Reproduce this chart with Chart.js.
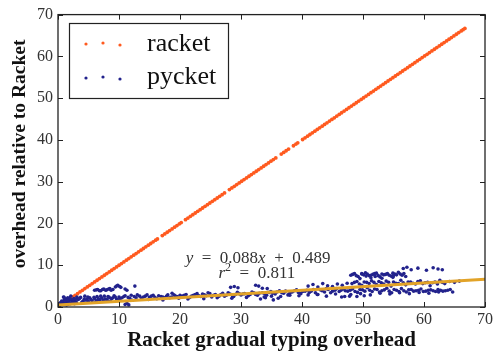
<!DOCTYPE html>
<html>
<head>
<meta charset="utf-8">
<script src="https://cdn.jsdelivr.net/npm/chart.js@4.4.1/dist/chart.umd.min.js"></script>
<style>
  body { margin: 0; background: #fff; }
  canvas { display: block; }
</style>
</head>
<body>
<canvas id="grafico" width="498" height="356"></canvas>
<script>
// racket vs itself: every point sits on the diagonal
const racketOverhead = [
  0.9,1.2,1.5,1.8,2.1,2.4,2.8,3.2,3.6,4.0,4.4,4.8,5.2,5.6,6.0,6.4,6.8,7.2,7.6,8.0,8.4,8.8,9.2,9.6,10.0,
  10.4,10.8,11.2,11.6,12.0,12.4,12.8,13.2,13.6,14.0,14.4,14.8,15.2,15.6,16.0,16.3,
  17.1,17.5,17.9,18.3,18.7,19.1,19.5,19.9,20.2,
  20.9,21.3,21.7,22.1,22.5,22.9,23.3,23.7,24.1,24.5,24.9,25.3,25.7,26.1,26.5,26.9,27.3,
  28.1,28.5,28.9,29.3,29.7,30.1,30.5,30.9,31.3,31.7,32.1,32.5,32.9,33.3,33.7,34.1,34.5,34.9,35.3,35.7,
  36.6,37.0,37.4,37.8,
  38.6,39.0,39.3,
  40.1,40.5,40.9,41.3,41.7,42.1,42.5,42.9,43.3,43.7,44.1,44.5,44.9,45.3,45.7,46.1,46.5,46.9,47.3,47.7,
  48.1,48.5,48.9,49.3,49.7,50.1,50.5,50.9,51.3,51.7,52.1,52.5,52.9,53.3,53.7,54.1,54.5,54.9,55.3,55.7,
  56.1,56.5,56.9,57.3,57.7,58.1,58.5,58.9,59.3,59.7,60.1,60.5,60.9,61.3,61.7,62.1,62.5,62.9,63.3,63.7,
  64.1,64.5,64.9,65.3,65.7,66.1,66.4,66.7
];

// pycket overhead (x = racket overhead, y = pycket relative)
const pycketX = [
  0.3,0.5,0.7,0.8,1.0,1.1,1.3,1.5,1.6,1.8,2.0,2.2,2.4,2.6,2.8,3.0,0.9,1.4,2.1,2.7,
  0.4,0.6,1.2,1.7,1.9,2.3,2.5,2.9,3.1,0.2,1.0,1.5,
  3.3,3.7,4.1,4.4,4.8,5.2,5.6,6.0,6.4,6.8,7.2,7.6,8.0,8.4,8.8,9.2,9.6,10.0,3.9,5.0,6.2,7.4,8.6,9.8,
  3.5,4.3,4.9,5.4,5.9,6.6,7.0,7.8,8.2,9.0,9.4,10.2,4.6,6.3,8.1,
  6.0,6.5,7.0,7.5,8.0,8.5,9.0,9.4,9.8,10.1,11.0,11.3,12.6,
  6.3,6.8,7.3,7.8,8.3,8.7,9.6,10.3,
  11.0,11.3,11.6,
  10.5,11.0,11.8,12.5,13.0,13.7,14.3,15.0,15.6,16.2,16.9,17.5,18.0,18.6,19.2,19.8,12.2,14.8,17.2,18.7,
  10.8,11.5,12.0,12.8,13.4,14.0,14.6,15.3,15.9,16.5,17.2,17.8,18.3,19.0,19.5,20.0,
  20.4,21.0,21.6,22.2,22.8,23.4,24.0,24.6,25.2,25.8,26.4,27.0,27.6,28.2,28.8,29.4,30.0,30.6,31.2,31.8,32.4,33.0,
  20.7,21.9,22.5,23.1,23.7,24.3,24.9,25.5,26.7,27.3,27.9,28.6,29.1,29.7,30.3,31.5,32.1,32.7,
  21.3,23.9,26.1,28.5,30.9,28.3,28.9,29.5,32.4,32.9,33.5,34.3,
  33.5,34.2,34.9,35.6,36.3,37.0,37.7,38.4,39.1,39.8,40.5,41.2,41.9,42.6,43.3,44.0,44.7,45.4,46.1,46.8,
  33.9,34.6,35.2,35.9,36.7,37.3,38.0,38.8,39.4,40.1,40.8,41.5,42.2,43.0,43.7,44.3,45.0,45.7,46.4,47.1,
  33.8,35.0,36.5,38.0,39.5,41.0,42.5,44.0,45.5,47.0,33.2,34.0,35.3,36.1,
  41.0,41.8,42.6,43.4,44.2,45.0,45.8,46.6,47.4,
  48.0,48.6,49.2,49.8,50.4,51.0,51.6,52.2,52.8,53.4,54.0,54.6,55.2,55.8,56.4,57.0,49.5,51.3,53.1,54.9,
  48.3,48.9,49.8,50.1,50.7,51.3,51.9,52.5,53.1,53.7,54.3,54.9,55.5,56.1,56.7,50.5,52.0,55.0,
  56.6,57.2,57.9,59.0,60.4,61.5,62.3,63.0,
  48.2,49.0,49.8,50.6,51.4,52.2,53.0,53.8,54.6,55.4,56.2,57.0,57.8,58.6,59.4,60.2,61.0,61.8,62.6,63.4,64.2,65.0,65.8,
  48.6,49.4,50.2,51.0,51.8,52.6,53.4,54.2,55.0,55.8,56.6,57.4,58.2,59.0,59.8,60.6,61.4,62.2,63.0,
  47.5,48.3,49.1,49.9,50.7,51.5,52.3,53.1,53.9,54.7,55.5,56.3,57.1,57.9,58.7,59.5,60.3,61.1,61.9,62.7,63.5,64.3,
  47.9,48.7,49.5,50.3,51.1,51.9,52.7,53.5,54.3,55.1,55.9,56.7,57.5,58.3,59.1,59.9,60.7,61.5,62.3,63.1,63.9,64.7,
  48.0,49.6,51.2,52.8,54.4,56.0,57.6,59.2,60.8,62.4,46.5,47.8,49.0,50.2
];
const pycketY = [
  0.4,0.7,1.2,0.9,1.6,0.6,1.9,1.1,2.2,1.4,0.8,1.7,1.2,2.0,1.5,1.1,2.4,0.5,2.6,0.8,
  1.0,1.4,1.0,0.7,2.0,1.0,1.8,1.9,2.4,0.8,2.3,1.6,
  1.8,2.3,1.4,2.6,1.9,2.2,1.5,2.0,2.5,1.7,2.1,2.6,1.8,2.3,2.0,2.7,1.9,2.4,1.1,1.3,1.2,1.6,1.4,1.7,
  2.0,1.9,2.4,1.8,2.3,2.0,2.6,1.9,2.5,2.2,2.4,2.0,1.6,1.5,1.5,
  4.0,4.2,3.9,4.3,4.1,4.4,4.2,4.8,5.2,4.9,4.3,4.0,5.0,
  4.1,3.9,4.2,4.0,4.3,4.0,5.0,4.7,
  0.6,0.9,0.5,
  2.2,2.7,2.0,2.5,2.9,2.1,2.6,2.3,2.8,2.0,2.5,2.2,2.9,2.4,2.7,2.1,1.6,1.8,1.7,3.3,
  2.5,2.3,2.8,2.2,2.6,2.4,2.9,2.6,2.3,2.7,2.4,2.6,2.2,2.9,2.5,2.8,
  2.6,3.0,2.3,2.8,3.2,2.5,2.9,3.4,2.4,3.0,2.6,3.3,2.8,3.1,2.5,3.5,2.9,3.2,2.7,3.6,3.0,3.3,
  2.8,2.6,3.0,2.7,3.1,2.7,3.2,2.8,3.0,2.6,3.4,2.7,3.0,3.2,3.1,3.0,3.4,2.8,
  1.9,2.0,2.2,2.1,2.3,4.7,4.9,4.6,5.2,5.0,4.5,4.4,
  3.4,2.8,3.7,3.1,3.9,3.3,2.9,3.6,4.1,3.2,3.8,3.5,4.2,3.0,3.9,4.4,3.4,4.0,3.7,4.3,
  3.1,3.5,3.3,3.6,3.4,3.8,3.3,3.9,3.5,3.7,4.0,3.8,3.4,4.1,3.6,4.2,3.8,4.4,4.0,3.9,
  2.4,2.6,2.5,2.8,2.7,2.9,3.0,2.6,3.1,2.5,1.9,2.2,1.7,2.1,
  5.0,5.4,4.8,5.6,5.1,4.9,5.5,5.2,5.7,
  7.6,8.0,7.3,7.9,8.2,7.5,7.8,8.1,7.2,7.7,8.0,7.4,7.9,8.3,7.6,7.3,6.8,7.0,6.9,7.1,
  7.8,7.5,8.0,7.7,7.9,7.6,8.0,7.5,7.9,7.8,7.6,8.1,7.7,7.9,8.0,7.4,7.3,7.5,
  9.2,9.5,8.9,9.3,8.8,9.4,9.1,8.9,
  5.6,6.1,5.2,5.9,6.3,5.4,5.8,6.2,5.0,5.7,6.4,5.3,6.0,5.5,6.3,5.8,5.1,6.0,6.4,5.6,6.1,5.9,6.2,
  5.9,5.5,6.0,5.6,5.9,6.1,5.5,5.9,6.0,5.6,5.8,6.0,5.7,6.1,5.6,5.9,5.8,5.5,5.9,
  3.8,4.3,3.5,4.1,4.6,3.7,4.2,3.9,4.5,3.4,4.0,4.4,3.6,4.2,3.9,4.3,3.8,4.1,3.7,4.0,3.9,4.2,
  4.0,3.7,4.2,3.8,4.0,4.3,3.6,4.1,3.8,4.2,3.7,3.9,4.1,3.8,4.0,3.7,4.0,3.9,4.2,3.8,4.0,3.6,
  3.0,3.2,2.9,3.3,3.1,3.4,3.2,3.5,3.3,3.6,2.4,2.6,2.5,2.7
];

// linear fit of pycket, y = 0.088x + 0.489
const fitX = [0, 70];
const fitY = [0.489, 6.649];
const fitText = ['y', ' = ', '0.088', 'x', ' + ', '0.489'];
const r2Text = ['r', '2', ' = ', '0.811'];

const serif = "'Liberation Serif', 'DejaVu Serif', serif";
const ORANGE = '#ff5a1f';
const NAVY = '#22228c';
const GOLD = '#e2a328';

const marcoPlugin = {
  id: 'marco',
  afterDraw(chart) {
    const { ctx, chartArea: a, scales } = chart;
    const xs = scales.x, ys = scales.y;
    ctx.save();
    // caja y marcas hacia adentro
    ctx.strokeStyle = '#222';
    ctx.lineWidth = 1.3;
    ctx.strokeRect(a.left, a.top, a.right - a.left, a.bottom - a.top);
    ctx.lineWidth = 1;
    const tl = 5;
    xs.ticks.forEach(t => {
      const px = Math.round(xs.getPixelForValue(t.value)) + 0.5;
      ctx.beginPath();
      ctx.moveTo(px, a.bottom); ctx.lineTo(px, a.bottom - tl);
      ctx.moveTo(px, a.top); ctx.lineTo(px, a.top + tl);
      ctx.stroke();
    });
    ys.ticks.forEach(t => {
      const py = Math.round(ys.getPixelForValue(t.value)) + 0.5;
      ctx.beginPath();
      ctx.moveTo(a.left, py); ctx.lineTo(a.left + tl, py);
      ctx.moveTo(a.right, py); ctx.lineTo(a.right - tl, py);
      ctx.stroke();
    });

    // leyenda
    ctx.fillStyle = '#fff';
    ctx.fillRect(69.5, 23.5, 159, 75);
    ctx.strokeStyle = '#222';
    ctx.lineWidth = 1.2;
    ctx.strokeRect(69.5, 23.5, 159, 75);
    const rows = [{ ds: 0, y: 44, base: 51 }, { ds: 1, y: 78, base: 84 }];
    const jitter = [0, -1, 1];
    rows.forEach(r => {
      const ds = chart.data.datasets[r.ds];
      ctx.fillStyle = ds.backgroundColor;
      [86, 103, 120].forEach((x, i) => {
        ctx.beginPath();
        ctx.arc(x, r.y + jitter[i], 1.6, 0, Math.PI * 2);
        ctx.fill();
      });
      ctx.fillStyle = '#111';
      ctx.font = '26px ' + serif;
      ctx.textBaseline = 'alphabetic';
      ctx.textAlign = 'left';
      ctx.fillText(ds.label, 147, r.base);
    });

    // anotacion del ajuste
    ctx.fillStyle = '#333';
    ctx.textBaseline = 'alphabetic';
    const drawParts = (parts, cx, by, italics, sup) => {
      const fonts = parts.map((p, i) => {
        if (sup && sup.includes(i)) return '12px ' + serif;
        return (italics.includes(i) ? 'italic ' : '') + '17px ' + serif;
      });
      const widths = parts.map((p, i) => { ctx.font = fonts[i]; return ctx.measureText(p).width; });
      const total = widths.reduce((s, w) => s + w, 0);
      let x = cx - total / 2;
      parts.forEach((p, i) => {
        ctx.font = fonts[i];
        ctx.fillText(p, x, sup && sup.includes(i) ? by - 7 : by);
        x += widths[i];
      });
    };
    drawParts(fitText.map(s => s.replace(/ /g, '\u2002')), xs.getPixelForValue(32.8), ys.getPixelForValue(10.6), [0, 3]);
    drawParts(r2Text.map(s => s.replace(/ /g, '\u2002')), xs.getPixelForValue(32.6), ys.getPixelForValue(6.9), [0], [1]);
    ctx.restore();
  }
};

const tickFont = { family: serif, size: 16 };

new Chart(document.getElementById('grafico'), {
  type: 'scatter',
  data: {
    datasets: [
      {
        label: 'racket',
        data: racketOverhead.map(v => ({ x: v, y: v })),
        backgroundColor: ORANGE,
        borderColor: ORANGE,
        pointRadius: 1.9,
        borderWidth: 0,
        order: 2
      },
      {
        label: 'pycket',
        data: pycketX.map((x, i) => ({ x: x, y: pycketY[i] })),
        backgroundColor: NAVY,
        borderColor: NAVY,
        pointRadius: 1.8,
        borderWidth: 0,
        order: 1
      },
      {
        type: 'line',
        label: 'fit',
        data: fitX.map((x, i) => ({ x: x, y: fitY[i] })),
        borderColor: GOLD,
        borderWidth: 3,
        pointRadius: 0,
        fill: false,
        order: 0
      }
    ]
  },
  plugins: [marcoPlugin],
  options: {
    responsive: false,
    animation: false,
    layout: { padding: { top: 11, right: 13, left: 0, bottom: 0 } },
    plugins: { legend: { display: false }, tooltip: { enabled: false } },
    scales: {
      x: {
        type: 'linear', min: 0, max: 70,
        ticks: { stepSize: 10, font: tickFont, color: '#333', padding: 3, maxRotation: 0 },
        grid: { display: false, drawTicks: false },
        border: { display: false },
        title: {
          display: true, text: 'Racket gradual typing overhead',
          font: { family: serif, size: 21, weight: 'bold' }, color: '#111',
          padding: { top: 0, bottom: 3 }
        },
        afterFit: s => { s.height = 49; }
      },
      y: {
        min: 0, max: 70,
        ticks: { stepSize: 10, font: tickFont, color: '#333', padding: 5 },
        grid: { display: false, drawTicks: false },
        border: { display: false },
        title: {
          display: true, text: '\u2002\u2009overhead relative to Racket',
          font: { family: serif, size: 19.5, weight: 'bold' }, color: '#111',
          padding: { top: 8, bottom: 0 }
        },
        afterFit: s => { s.width = 58; }
      }
    }
  }
});
</script>
</body>
</html>
